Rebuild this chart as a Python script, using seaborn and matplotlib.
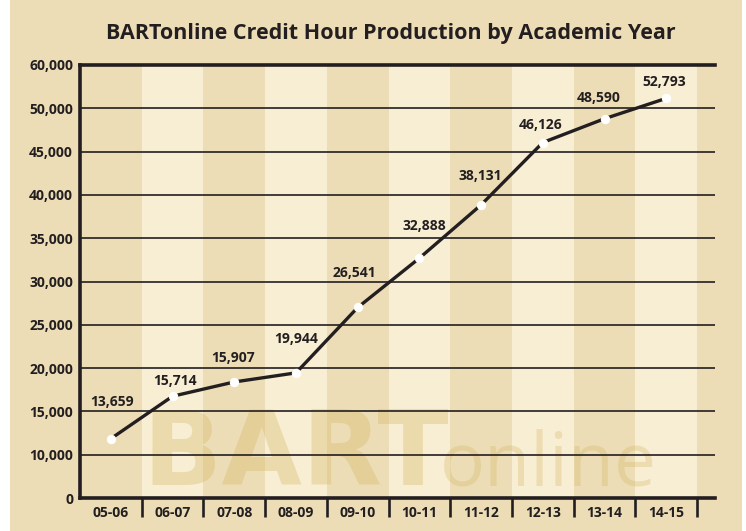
import numpy as np
import pandas as pd
import seaborn as sns
import matplotlib.pyplot as plt
from matplotlib.patches import Rectangle

years = ["05-06", "06-07", "07-08", "08-09", "09-10",
         "10-11", "11-12", "12-13", "13-14", "14-15"]
# where the points sit on the (uneven) y axis
plotted = [11850, 16750, 18400, 19450, 27000, 32700, 38850, 46050, 48800, 52300]
# the numbers printed next to the points
printed = [13659, 15714, 15907, 19944, 26541, 32888, 38131, 46126, 48590, 52793]
y_ticks = [0, 10000, 15000, 20000, 25000, 30000, 35000, 40000, 45000, 50000, 60000]

# label offsets in pixels (dx, dy) from each point
offsets = [(1, 37), (2, 15), (-1, 24), (0, 34), (-3, 34),
           (5, 32), (-1, 29), (-2, 18), (-6, 21), (-2, 16)]

ink = "#231f20"
dark = "#EDDDB7"
light = "#F8EED4"
mark = "#D2B45A"

sns.set_theme(style="white")
plt.rcParams["font.family"] = ["Open Sans", "DejaVu Sans"]

# the axis steps evenly through the tick values, so map values onto step index
step = np.arange(len(y_ticks))
df = pd.DataFrame({"i": np.arange(len(years)),
                   "pos": np.interp(plotted, y_ticks, step)})

fig = plt.figure(figsize=(7.46, 5.31), dpi=100, facecolor="white")
fig.add_artist(Rectangle((10 / 746, 0), 732 / 746, 1, transform=fig.transFigure,
                         facecolor=dark, edgecolor="none", zorder=-1))
ax = fig.add_axes([80 / 746, 1 - 498 / 531, 635 / 746, 433 / 531])
ax.set_facecolor(dark)

for k in range(len(years)):
    if k % 2 == 1:
        ax.axvspan(k - 0.5, k + 0.5, color=light, lw=0, zorder=0)

ax.text(0.098, 0.03, "BART", transform=ax.transAxes, fontsize=75, family="DejaVu Sans",
        fontweight="bold", color=mark, alpha=0.33, va="baseline", zorder=0.5)
ax.text(0.566, 0.03, "online", transform=ax.transAxes, fontsize=54,
        fontweight="normal", color=mark, alpha=0.3, va="baseline", zorder=0.5)

sns.lineplot(data=df, x="i", y="pos", ax=ax, color=ink, lw=2.4, marker="o",
             markersize=6, markerfacecolor="white", markeredgecolor="white",
             zorder=3)

for k, (v, (dx, dy)) in enumerate(zip(printed, offsets)):
    ax.annotate(f"{v:,}", (k, df["pos"][k]), xytext=(dx * 0.72, dy * 0.72),
                textcoords="offset points", ha="center", va="center",
                fontsize=10, fontweight="bold", color=ink, zorder=4)

ax.set_xlim(-0.5, 9.79)
ax.set_ylim(0, 10)
ax.set_yticks(step)
ax.set_yticklabels([f"{t:,}" for t in y_ticks], fontsize=10, fontweight="bold", color=ink)
ax.set_xticks(np.arange(len(years)))
ax.set_xticklabels(years, fontsize=10, fontweight="bold", color=ink)
ax.set_xticks(np.arange(len(years)) + 0.5, minor=True)
ax.tick_params(axis="y", length=0, pad=5)
ax.tick_params(axis="x", which="major", length=0, pad=6)
ax.tick_params(axis="x", which="minor", bottom=True, length=14, width=1.9,
               color=ink, direction="out")
ax.grid(axis="y", color=ink, lw=1.2, zorder=1)
ax.set_axisbelow(False)
ax.set_xlabel("")
ax.set_ylabel("")

ax.spines["right"].set_visible(False)
for s in ["left", "bottom", "top"]:
    ax.spines[s].set_color(ink)
    ax.spines[s].set_linewidth(2.6)
    ax.spines[s].set_zorder(2.5)

fig.text(391 / 746, 1 - 33 / 531, "BARTonline Credit Hour Production by Academic Year",
         ha="center", va="center", fontsize=15.5, fontweight="bold", color=ink)

fig.savefig("out.png", dpi=100, facecolor="white")
